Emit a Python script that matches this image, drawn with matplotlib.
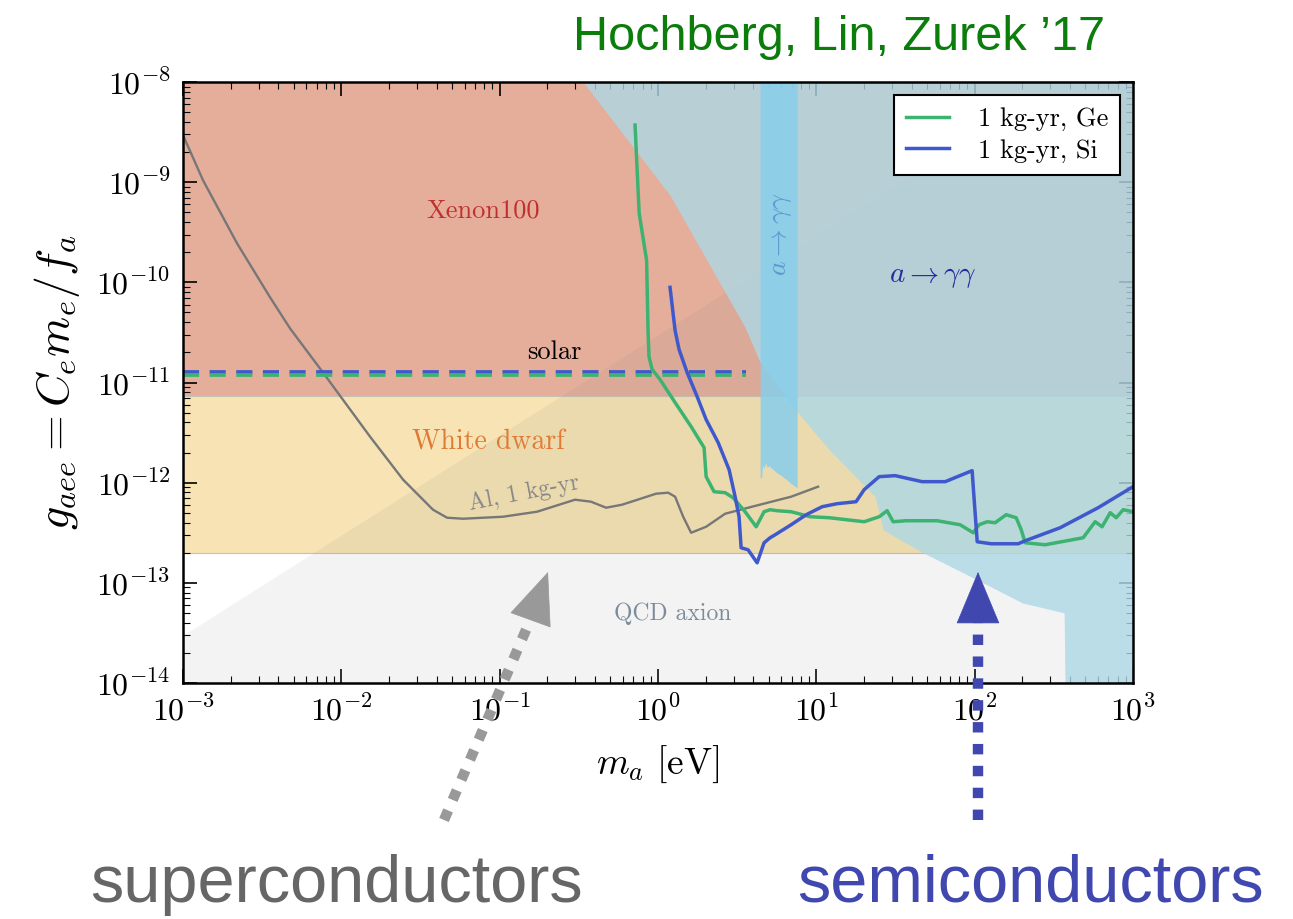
import numpy as np
import matplotlib
matplotlib.use('Agg')
import matplotlib.pyplot as plt
from matplotlib.ticker import FuncFormatter, LogLocator, FixedLocator

plt.rcParams['mathtext.fontset'] = 'cm'

# --- data (log10 of m_a [eV] and log10 of g_aee) ---
ge_logm = [-0.145, -0.119, -0.072, -0.063, -0.057, -0.037, 0.013, 0.108, 0.209, 0.291,
           0.304, 0.354, 0.424, 0.474, 0.550, 0.620, 0.670, 0.708, 0.752, 0.841,
           0.961, 1.081, 1.302, 1.397, 1.447, 1.485, 1.567, 1.763, 1.908, 1.991,
           2.028, 2.079, 2.129, 2.199, 2.262, 2.294, 2.319, 2.445, 2.685, 2.761,
           2.805, 2.856, 2.894, 2.938, 3.0]
ge_logg = [-8.43, -9.31, -9.78, -10.48, -10.74, -10.87, -10.97, -11.20, -11.44, -11.65,
           -11.94, -12.09, -12.10, -12.15, -12.29, -12.44, -12.29, -12.27, -12.28, -12.29,
           -12.34, -12.35, -12.39, -12.34, -12.28, -12.39, -12.38, -12.38, -12.42, -12.50,
           -12.42, -12.39, -12.40, -12.32, -12.35, -12.47, -12.60, -12.62, -12.55, -12.39,
           -12.44, -12.30, -12.35, -12.27, -12.29]

si_logm = [0.076, 0.108, 0.133, 0.184, 0.247, 0.304, 0.380, 0.449, 0.487, 0.512,
           0.525, 0.569, 0.626, 0.670, 0.708, 0.740, 0.841, 0.936, 1.037, 1.131,
           1.251, 1.302, 1.397, 1.498, 1.668, 1.814, 1.984, 1.991, 2.016, 2.104,
           2.275, 2.319, 2.540, 2.780, 3.0]
si_logg = [-10.05, -10.48, -10.67, -10.90, -11.14, -11.37, -11.60, -11.87, -12.14, -12.34,
           -12.65, -12.67, -12.80, -12.60, -12.55, -12.52, -12.42, -12.32, -12.24, -12.21,
           -12.19, -12.07, -11.94, -11.93, -11.99, -11.99, -11.88, -12.04, -12.59, -12.61,
           -12.61, -12.58, -12.45, -12.25, -12.04]

al_logm = [-3.0, -2.874, -2.659, -2.450, -2.324, -2.116, -1.819, -1.610, -1.421, -1.332,
           -1.231, -0.979, -0.764, -0.524, -0.423, -0.328, -0.227, -0.012, 0.064, 0.108,
           0.159, 0.209, 0.304, 0.424, 0.594, 0.841, 1.011]
al_logg = [-8.53, -8.98, -9.61, -10.15, -10.46, -10.90, -11.54, -11.97, -12.27, -12.35,
           -12.36, -12.34, -12.29, -12.17, -12.19, -12.25, -12.22, -12.11, -12.10, -12.14,
           -12.34, -12.50, -12.44, -12.31, -12.24, -12.14, -12.04]

solar_m = [1e-3, 3.6]
solar_ge = [1.2e-11, 1.2e-11]
solar_si = [1.28e-11, 1.28e-11]

# a -> gamma gamma lower boundary
agg_logm = [-0.473, -0.24, 0.076, 0.55, 0.645, 0.866, 1.081, 1.371, 1.422, 1.662,
            2.054, 2.30, 2.565, 2.578, 3.0]
agg_logg = [-8.0, -8.48, -9.13, -10.45, -10.80, -11.27, -11.67, -12.14, -12.47, -12.69,
            -13.0, -13.2, -13.30, -15.0, -15.0]

# narrow a -> gamma gamma band
band_logm = [0.645, 0.655, 0.66, 0.67, 0.68, 0.69, 0.70, 0.72, 0.75, 0.78, 0.82, 0.85, 0.879]
band_logg = [-11.95, -11.95, -11.82, -11.86, -11.80, -11.85, -11.83, -11.86, -11.90,
             -11.93, -11.98, -12.02, -12.05]

xenon_lo, top = 7.4e-12, 1e-8
wd_lo = 2.0e-13
qcd_coef = 3e-11   # g = qcd_coef * m

x_decades = [-3, -2, -1, 0, 1, 2, 3]
y_decades = [-14, -13, -12, -11, -10, -9, -8]

fig = plt.figure(figsize=(12.93, 9.19), dpi=100)
ax = fig.add_axes([183/1293, 1-683/919, 950/1293, 601/919])
ax.set_xscale('log')
ax.set_yscale('log')
ax.set_xlim(1e-3, 1e3)
ax.set_ylim(1e-14, 1e-8)

mfull = np.array([1e-3, 1e3])
ax.fill_between(mfull, xenon_lo, top, color='#e5ae9a', lw=0, zorder=1)
ax.fill_between(mfull, wd_lo, xenon_lo, facecolor='#f7e3b4', edgecolor='#c9c1b3', lw=0.8, zorder=1)

mq = np.logspace(-3, 3, 50)
ax.fill_between(mq, 1e-16, qcd_coef*mq, color='gray', alpha=0.09, lw=0, zorder=2)

ax.fill_between(10**np.array(agg_logm), 10**np.array(agg_logg), top,
                color='#add8e6', alpha=0.8, lw=0, zorder=3)
ax.fill_between(10**np.array(band_logm), 10**np.array(band_logg), top,
                color='#87ceeb', alpha=0.85, lw=0, zorder=3)

ax.plot(10**np.array(al_logm), 10**np.array(al_logg), color='#777777', lw=1.7, zorder=4)
ax.plot(solar_m, solar_si, color='#3f58cc', lw=2.7, ls=(0, (4.3, 2.8)), zorder=4)
ax.plot(solar_m, solar_ge, color='#3cb371', lw=2.7, ls=(0, (4.3, 2.8)), zorder=4)
ax.plot(10**np.array(ge_logm), 10**np.array(ge_logg), color='#3cb371', lw=2.5,
        label='1 kg-yr, Ge', zorder=5)
ax.plot(10**np.array(si_logm), 10**np.array(si_logg), color='#3f58cc', lw=2.5,
        label='1 kg-yr, Si', zorder=5)

cm = 'cmr10'
ax.text(0.0785, 5.2e-10, 'Xenon100', color='#c03030', fontsize=19, family=cm, ha='center', va='center', zorder=6)
ax.text(0.085, 2.5e-12, 'White dwarf', color='#e07b35', fontsize=20, family=cm, ha='center', va='center', zorder=6)
ax.text(1.23, 4.9e-14, 'QCD axion', color='#7d8c9c', fontsize=17, family=cm, ha='center', va='center', zorder=6)
ax.text(0.22, 2.0e-11, 'solar', color='black', fontsize=19, family=cm, ha='center', va='center', zorder=6)
ax.text(0.143, 7.9e-13, 'Al, 1 kg-yr', color='#888888', fontsize=17, family=cm, ha='center', va='center',
        rotation=11, zorder=6)
ax.text(54.7, 1.17e-10, r'$a\rightarrow\gamma\gamma$', color='#2a2aa0', fontsize=21,
        ha='center', va='center', zorder=6)
ax.text(5.9, 3.0e-10, r'$a\rightarrow\gamma\gamma$', color='#5b9bcf', fontsize=20,
        ha='center', va='center', rotation=90, zorder=6)

leg = ax.legend(loc='upper right', prop={'family': cm, 'size': 19}, handlelength=1.6,
                handletextpad=1.1, labelspacing=0.3, borderpad=0.45, fancybox=False,
                framealpha=1, edgecolor='black', borderaxespad=0.5)
leg.get_frame().set_linewidth(1.5)
leg.set_zorder(10)

fmt = FuncFormatter(lambda v, _: r'$10^{%d}$' % int(round(np.log10(v))))
ax.xaxis.set_major_locator(FixedLocator(10.0**np.array(x_decades)))
ax.yaxis.set_major_locator(FixedLocator(10.0**np.array(y_decades)))
ax.xaxis.set_major_formatter(fmt)
ax.yaxis.set_major_formatter(fmt)
for a in (ax.xaxis, ax.yaxis):
    a.set_minor_locator(LogLocator(base=10, subs=np.arange(2, 10), numticks=10))
ax.tick_params(which='both', direction='in', top=True, right=True, labelsize=23, pad=9)
ax.tick_params(which='major', length=10, width=1.2)
ax.tick_params(which='minor', length=5, width=0.8)
for s in ax.spines.values():
    s.set_linewidth(1.8)
    s.set_zorder(11)

ax.set_xlabel(r'$m_a\ [\mathrm{eV}]$', fontsize=27, labelpad=12)
ax.set_ylabel(r'$g_{aee} = C_e m_e/f_a$', fontsize=33, labelpad=10)

fig.text(573/1293, 1-50/919, 'Hochberg, Lin, Zurek \u201917', color='#0a7d0a', fontsize=35,
         family='Liberation Sans', va='baseline', ha='left')
fig.text(90/1293, 1-902/919, 'superconductors', color='#666666', fontsize=48,
         family='Liberation Sans', va='baseline', ha='left')
fig.text(797/1293, 1-902/919, 'semiconductors', color='#4048b0', fontsize=48,
         family='Liberation Sans', va='baseline', ha='left')

# pointer arrows (figure pixels)
for tail, tip, base, c in [((444, 99), (548, 347), (532, 303), '#999999'),
                           ((978, 99), (978, 347), (978, 300), '#4048b0')]:
    ax.annotate('', xy=base, xycoords='figure pixels', xytext=tail, textcoords='figure pixels',
                arrowprops=dict(arrowstyle='-', color=c, lw=7.5, linestyle=(0, (1.0, 1.1)),
                                capstyle='butt', shrinkA=0, shrinkB=0),
                annotation_clip=False, zorder=12)
    ax.annotate('', xy=tip, xycoords='figure pixels', xytext=base, textcoords='figure pixels',
                arrowprops=dict(arrowstyle='-|>,head_length=1.8,head_width=0.75', color=c, lw=0.5,
                                mutation_scale=20, shrinkA=0, shrinkB=0),
                annotation_clip=False, zorder=12)

fig.savefig('out.png', dpi=100)
